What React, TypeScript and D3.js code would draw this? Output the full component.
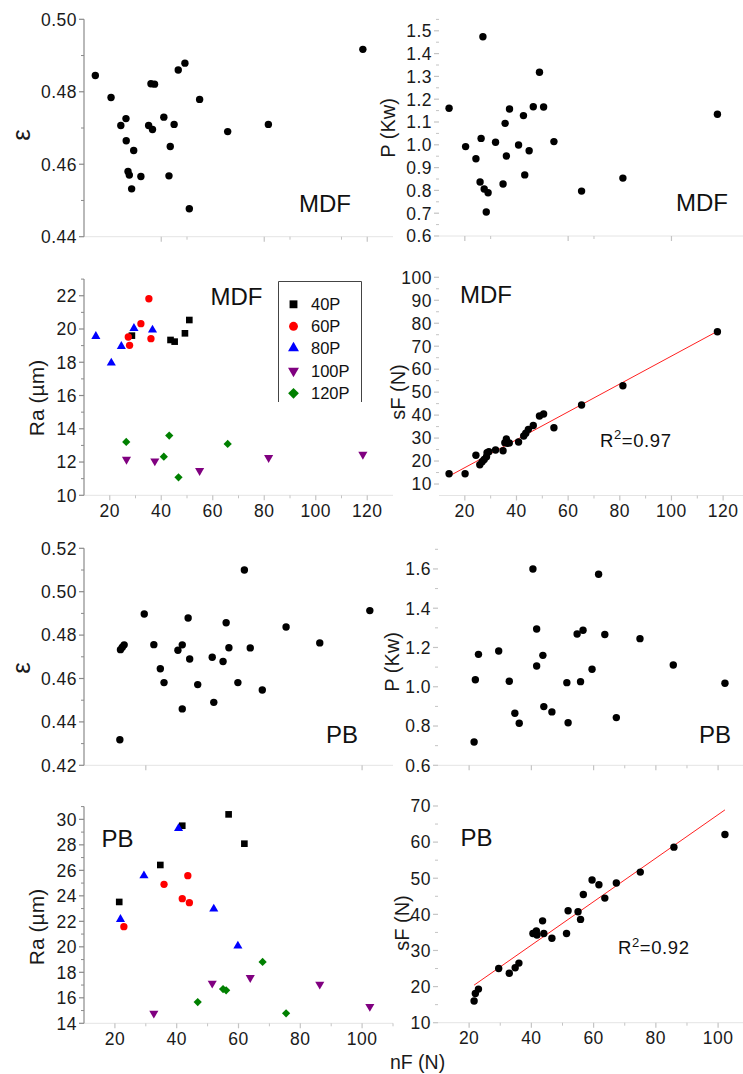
import React from 'react';
import * as d3 from 'd3';

const FONT = '"Liberation Sans", Arial, Helvetica, sans-serif';
const W = 743;
const H = 1074;

// ---------- MDF : porosity (ε) vs nF ----------
const mdfEpsNF = [14.4, 20.5, 24.3, 26.3, 26.4, 29.3, 27.1, 27.6, 28.5, 32.1, 36.0, 37.4, 35.1, 36.6, 41.0, 45.0, 43.5, 43.0, 46.6, 49.2, 54.9, 50.9, 65.8, 81.6, 118.3];
const mdfEps = [0.4845, 0.4784, 0.4707, 0.4726, 0.4665, 0.4638, 0.458, 0.457, 0.4532, 0.4566, 0.4822, 0.4821, 0.4707, 0.4696, 0.473, 0.471, 0.4649, 0.4568, 0.486, 0.4879, 0.4779, 0.4477, 0.469, 0.471, 0.4917];

// ---------- MDF : power P (Kw) vs nF ----------
const mdfPNF = [13.9, 20.3, 24.3, 26.3, 27.0, 25.9, 27.5, 29.0, 28.3, 31.9, 35.6, 37.3, 36.1, 34.8, 40.8, 42.7, 46.5, 44.9, 43.2, 48.9, 50.5, 54.5, 65.2, 81.2, 117.8];
const mdfP = [1.16, 0.992, 0.939, 1.028, 1.474, 0.837, 0.806, 0.79, 0.705, 1.011, 1.094, 1.157, 0.951, 0.828, 0.999, 1.128, 1.167, 0.974, 0.868, 1.318, 1.166, 1.014, 0.797, 0.854, 1.134];

// ---------- MDF : Ra by grit ----------
const gritNames = ['40P', '60P', '80P', '100P', '120P'];
const gritColors = ['#000000', '#ff0000', '#0000ff', '#800080', '#008000'];
const gritShapes = ['square', 'circle', 'triangle', 'triangleDown', 'diamond'];
const mdfRaNF = [
  [28.6, 43.6, 45.2, 49.2, 50.9],
  [27.2, 27.7, 32.1, 35.2, 36.0],
  [14.6, 20.6, 24.5, 29.4, 36.6],
  [26.5, 37.5, 54.9, 81.7, 118.3],
  [26.4, 41.0, 43.1, 46.7, 65.8],
];
const mdfRa = [
  [19.6, 19.34, 19.24, 19.74, 20.54],
  [19.52, 19.02, 20.32, 21.82, 19.42],
  [19.56, 17.96, 18.96, 20.04, 19.94],
  [12.16, 12.06, 11.48, 12.26, 12.46],
  [13.21, 12.32, 13.59, 11.08, 13.09],
];

// ---------- MDF : sF vs nF ----------
const mdfSFNF = [13.9, 20.1, 24.3, 25.8, 26.7, 27.5, 28.4, 28.6, 29.3, 31.9, 34.8, 35.5, 36.1, 36.5, 37.2, 40.8, 42.8, 43.6, 44.6, 46.5, 48.9, 50.5, 54.5, 65.2, 81.2, 117.8];
const mdfSF = [14.5, 14.5, 22.5, 18.4, 19.7, 20.7, 21.9, 23.6, 24.1, 24.8, 24.5, 28.0, 29.6, 27.7, 27.9, 28.3, 30.9, 32.1, 33.8, 35.5, 39.6, 40.5, 34.5, 44.4, 52.8, 76.3];
const mdfFit = { slope: 0.607, intercept: 5.0, from: 14, to: 118, r2: '0.97' };

// ---------- PB : porosity (ε) vs nF ----------
const pbEpsNF = [21.6, 21.8, 22.4, 23.0, 29.5, 32.6, 34.7, 35.9, 40.4, 41.8, 41.8, 43.7, 44.2, 46.8, 51.5, 52.0, 55.0, 56.0, 56.9, 59.8, 61.9, 63.8, 67.7, 75.4, 86.3, 102.5];
const pbEps = [0.4318, 0.4733, 0.4744, 0.4755, 0.4897, 0.4756, 0.4645, 0.4581, 0.473, 0.4755, 0.446, 0.4879, 0.469, 0.4572, 0.4698, 0.449, 0.4678, 0.4857, 0.4742, 0.4581, 0.51, 0.4741, 0.4547, 0.4837, 0.4764, 0.4913];

// ---------- PB : power P (Kw) vs nF ----------
const pbPNF = [21.6, 22.0, 23.0, 29.5, 32.9, 34.7, 36.1, 40.5, 41.7, 41.7, 43.7, 44.0, 46.6, 51.4, 51.8, 54.7, 55.8, 56.6, 59.5, 61.6, 63.6, 67.3, 74.9, 85.6, 102.2];
const pbP = [0.719, 1.036, 1.165, 1.182, 1.028, 0.865, 0.814, 1.6, 1.294, 1.106, 1.16, 0.899, 0.872, 1.021, 0.817, 1.269, 1.026, 1.288, 1.089, 1.573, 1.266, 0.843, 1.245, 1.111, 1.018];

// ---------- PB : Ra by grit ----------
const pbRaNF = [
  [21.4, 34.7, 41.8, 56.8, 61.9],
  [22.9, 35.9, 41.8, 43.6, 44.1],
  [21.8, 29.4, 40.6, 52.0, 59.8],
  [32.6, 51.5, 63.8, 86.3, 102.5],
  [46.8, 55.0, 56.0, 67.8, 75.4],
];
const pbRa = [
  [23.52, 26.42, 29.5, 30.39, 28.09],
  [21.58, 24.9, 23.78, 25.58, 23.46],
  [22.16, 25.58, 29.29, 22.97, 20.07],
  [14.78, 17.14, 17.58, 17.06, 15.31],
  [15.67, 16.69, 16.59, 18.81, 14.78],
];

// ---------- PB : sF vs nF ----------
const pbSFNF = [21.6, 22.0, 23.0, 29.5, 32.9, 34.8, 36.0, 40.5, 41.6, 41.8, 43.6, 44.0, 46.6, 51.3, 51.8, 55.0, 55.8, 56.7, 59.5, 61.7, 63.6, 67.3, 75.0, 85.8, 102.2];
const pbSF = [16.0, 18.1, 19.3, 25.0, 23.7, 25.2, 26.5, 34.7, 35.4, 34.3, 38.2, 34.7, 33.4, 34.7, 41.0, 40.7, 38.6, 45.5, 49.5, 48.2, 44.5, 48.7, 51.7, 58.6, 62.1];
const pbFit = { slope: 0.602, intercept: 7.4, from: 21.6, to: 102.2, r2: '0.92' };

type AxisCfg = {
  domain: [number, number];
  range: [number, number];
  labels: number[];
  major: number[];
  minor: number[];
  fmt?: string;
};
type PanelCfg = {
  left: boolean;
  x: AxisCfg;
  y: AxisCfg;
  title: string;
  titleAt: [number, number];
  titleSize: number;
  tag: string;
  tagAt: [number, number];
};

const range = (a: number, b: number, s: number) => d3.range(a, b + s / 2, s).map((v) => +v.toFixed(4));

const mdfXLeft = { domain: [10, 130] as [number, number], range: [84, 393] as [number, number] };
const mdfXRight = { domain: [10, 127.7] as [number, number], range: [439, 743] as [number, number] };
const pbXLeft = { domain: [10, 110] as [number, number], range: [84, 393] as [number, number] };
const pbXRight = { domain: [10, 108] as [number, number], range: [438, 743] as [number, number] };

const TICK = '#8a8a8a';
const TICK_LIGHT = '#c4c4c4';
const BASE = '#e4e4e4';
const TICK_FS = 17.5;
const TICK_LS = 0.5;

function Panel({ cfg, children }: { cfg: PanelCfg; children: (x: any, y: any) => React.ReactNode }) {
  const x = d3.scaleLinear().domain(cfg.x.domain).range(cfg.x.range);
  const y = d3.scaleLinear().domain(cfg.y.domain).range(cfg.y.range);
  const x0 = cfg.x.range[0];
  const yb = cfg.y.range[0];
  const yFmt = d3.format(cfg.y.fmt || 'd');
  const yCol = cfg.left ? TICK : TICK_LIGHT;
  return (
    <g>
      <line x1={x0} x2={cfg.x.range[1]} y1={yb} y2={yb} stroke={BASE} strokeWidth={1} />
      {cfg.left && <line x1={x0} x2={x0} y1={yb} y2={cfg.y.range[1]} stroke={TICK} strokeWidth={1.2} />}
      {cfg.y.major.map((v) => (
        <line key={'yM' + v} x1={x0 - 5} x2={x0} y1={y(v)} y2={y(v)} stroke={yCol} strokeWidth={1.2} />
      ))}
      {cfg.y.minor.map((v) => (
        <line key={'ym' + v} x1={x0 - 3} x2={x0} y1={y(v)} y2={y(v)} stroke={yCol} strokeWidth={1} />
      ))}
      {cfg.y.labels.map((v) => (
        <text key={'yl' + v} x={x0 - 7} y={y(v)} dy="0.36em" textAnchor="end" fontSize={TICK_FS} letterSpacing={TICK_LS} fill="#1a1a1a">
          {yFmt(v)}
        </text>
      ))}
      {cfg.x.major.map((v) => (
        <line key={'xM' + v} x1={x(v)} x2={x(v)} y1={yb} y2={yb + 5} stroke={TICK_LIGHT} strokeWidth={1.2} />
      ))}
      {cfg.x.minor.map((v) => (
        <line key={'xm' + v} x1={x(v)} x2={x(v)} y1={yb} y2={yb + 3} stroke={TICK_LIGHT} strokeWidth={1} />
      ))}
      {cfg.x.labels.map((v) => (
        <text key={'xl' + v} x={x(v)} y={yb + 21.5} textAnchor="middle" fontSize={TICK_FS} letterSpacing={TICK_LS} fill="#1a1a1a">
          {v}
        </text>
      ))}
      <text
        transform={`translate(${cfg.titleAt[0]},${cfg.titleAt[1]}) rotate(-90)`}
        textAnchor="middle"
        dy="0.35em"
        fontSize={cfg.titleSize}
        fill="#1a1a1a"
      >
        {cfg.title}
      </text>
      <text x={cfg.tagAt[0]} y={cfg.tagAt[1]} fontSize={24} fill="#111">
        {cfg.tag}
      </text>
      {children(x, y)}
    </g>
  );
}

function symbolPath(shape: string, size: number) {
  if (shape === 'square' || shape === 'diamond') return d3.symbol(d3.symbolSquare, size)() as string;
  if (shape === 'circle') return d3.symbol(d3.symbolCircle, size)() as string;
  return d3.symbol(d3.symbolTriangle, size)() as string;
}
function symbolRot(shape: string) {
  if (shape === 'diamond') return 45;
  if (shape === 'triangleDown') return 180;
  return 0;
}
const chartSize: Record<string, number> = { square: 44, circle: 42, triangle: 36, triangleDown: 36, diamond: 34 };
const legendSize: Record<string, number> = { square: 62, circle: 62, triangle: 52, triangleDown: 52, diamond: 58 };

function Dots({ x, y, xs, ys }: { x: any; y: any; xs: number[]; ys: number[] }) {
  return (
    <g>
      {xs.map((v, i) => (
        <circle key={i} cx={x(v)} cy={y(ys[i])} r={3.7} fill="#000" />
      ))}
    </g>
  );
}

function GritSeries({ x, y, xs, ys }: { x: any; y: any; xs: number[][]; ys: number[][] }) {
  return (
    <g>
      {xs.map((row, s) =>
        row.map((v, i) => (
          <path
            key={s + '-' + i}
            d={symbolPath(gritShapes[s], chartSize[gritShapes[s]])}
            transform={`translate(${x(v)},${y(ys[s][i])}) rotate(${symbolRot(gritShapes[s])})`}
            fill={gritColors[s]}
          />
        ))
      )}
    </g>
  );
}

function Fit({ x, y, fit, at }: { x: any; y: any; fit: typeof mdfFit; at: [number, number] }) {
  const line = d3
    .line<number>()
    .x((v) => x(v))
    .y((v) => y(fit.slope * v + fit.intercept));
  return (
    <g>
      <path d={line([fit.from, fit.to]) as string} stroke="#ff2020" strokeWidth={1} fill="none" />
      <text x={at[0]} y={at[1]} fontSize={18.5} letterSpacing={0.6} fill="#111">
        R<tspan dy={-7.5} fontSize={13}>2</tspan>
        <tspan dy={7.5}>={fit.r2}</tspan>
      </text>
    </g>
  );
}

function Legend() {
  const rowY = [304.3, 326.3, 348, 371, 393.3];
  return (
    <g>
      <rect x={278.5} y={281} width={83} height={121} fill="#fff" />
      <path d="M278.5,402 V281.5 H361.5 V402" fill="none" stroke="#444" strokeWidth={1} />
      {gritNames.map((n, i) => (
        <g key={n}>
          <path
            d={symbolPath(gritShapes[i], legendSize[gritShapes[i]])}
            transform={`translate(293.5,${rowY[i]}) rotate(${symbolRot(gritShapes[i])})`}
            fill={gritColors[i]}
          />
          <text x={311} y={rowY[i]} dy="0.36em" fontSize={16.5} fill="#111">
            {n}
          </text>
        </g>
      ))}
    </g>
  );
}

const cfgs: PanelCfg[] = [
  {
    left: true,
    x: { ...mdfXLeft, labels: [], major: [40, 80, 120], minor: [50, 90, 110] },
    y: { domain: [0.44, 0.5], range: [236.7, 19.3], labels: range(0.44, 0.5, 0.02), major: range(0.44, 0.5, 0.02), minor: range(0.45, 0.49, 0.02), fmt: '.2f' },
    title: 'ε', titleAt: [21, 135], titleSize: 26, tag: 'MDF', tagAt: [299, 212],
  },
  {
    left: false,
    x: { ...mdfXRight, labels: [], major: [20, 60, 100], minor: [30, 70] },
    y: { domain: [0.6, 1.55], range: [236, 19.4], labels: range(0.6, 1.5, 0.1), major: range(0.6, 1.5, 0.1), minor: range(0.65, 1.55, 0.1), fmt: '.1f' },
    title: 'P (Kw)', titleAt: [388, 128], titleSize: 20, tag: 'MDF', tagAt: [676, 211],
  },
  {
    left: true,
    x: { ...mdfXLeft, labels: range(20, 120, 20), major: range(20, 120, 20), minor: range(30, 110, 20) },
    y: { domain: [10, 23], range: [495.3, 279.1], labels: range(10, 22, 2), major: range(10, 22, 2), minor: range(11, 23, 2) },
    title: 'Ra (µm)', titleAt: [37, 398], titleSize: 21, tag: 'MDF', tagAt: [210.5, 305],
  },
  {
    left: false,
    x: { ...mdfXRight, labels: range(20, 120, 20), major: range(20, 120, 20), minor: range(30, 110, 20) },
    y: { domain: [5, 100], range: [495.5, 277.3], labels: range(10, 100, 10), major: range(10, 100, 10), minor: range(15, 95, 10) },
    title: 'sF (N)', titleAt: [397.5, 392], titleSize: 20, tag: 'MDF', tagAt: [460, 302.5],
  },
  {
    left: true,
    x: { ...pbXLeft, labels: [], major: [30, 100], minor: [] },
    y: { domain: [0.42, 0.52], range: [765.3, 548.3], labels: range(0.42, 0.52, 0.02), major: range(0.42, 0.52, 0.02), minor: range(0.43, 0.51, 0.02), fmt: '.2f' },
    title: 'ε', titleAt: [21, 668], titleSize: 26, tag: 'PB', tagAt: [326, 742.5],
  },
  {
    left: false,
    x: { ...pbXRight, labels: [], major: [20, 40, 60, 80, 100], minor: [70, 90] },
    y: { domain: [0.6, 1.7], range: [765.3, 549.3], labels: range(0.6, 1.6, 0.2), major: range(0.6, 1.6, 0.2), minor: range(0.7, 1.7, 0.2), fmt: '.1f' },
    title: 'P (Kw)', titleAt: [391.5, 662], titleSize: 20, tag: 'PB', tagAt: [699, 743],
  },
  {
    left: true,
    x: { ...pbXLeft, labels: range(20, 100, 20), major: range(20, 100, 20), minor: range(30, 110, 20) },
    y: { domain: [14, 31], range: [1023.3, 806.6], labels: range(14, 30, 2), major: range(14, 30, 2), minor: range(15, 31, 2) },
    title: 'Ra (µm)', titleAt: [37, 927], titleSize: 21, tag: 'PB', tagAt: [101.5, 846.5],
  },
  {
    left: false,
    x: { ...pbXRight, labels: range(20, 100, 20), major: range(20, 100, 20), minor: range(30, 90, 20) },
    y: { domain: [10, 70], range: [1022.7, 806], labels: range(10, 70, 10), major: range(10, 70, 10), minor: range(15, 65, 10) },
    title: 'sF (N)', titleAt: [401.5, 923], titleSize: 20, tag: 'PB', tagAt: [460.5, 846],
  },
];

export default function App() {
  return (
    <svg
      width={W}
      height={H}
      viewBox={`0 0 ${W} ${H}`}
      style={{ position: 'absolute', left: 0, top: 0, background: '#fff', fontFamily: FONT }}
    >
      <rect x={0} y={0} width={W} height={H} fill="#fff" />
      <Panel cfg={cfgs[0]}>{(x, y) => <Dots x={x} y={y} xs={mdfEpsNF} ys={mdfEps} />}</Panel>
      <Panel cfg={cfgs[1]}>{(x, y) => <Dots x={x} y={y} xs={mdfPNF} ys={mdfP} />}</Panel>
      <Panel cfg={cfgs[2]}>
        {(x, y) => (
          <g>
            <GritSeries x={x} y={y} xs={mdfRaNF} ys={mdfRa} />
            <Legend />
          </g>
        )}
      </Panel>
      <Panel cfg={cfgs[3]}>
        {(x, y) => (
          <g>
            <Fit x={x} y={y} fit={mdfFit} at={[600, 446.5]} />
            <Dots x={x} y={y} xs={mdfSFNF} ys={mdfSF} />
          </g>
        )}
      </Panel>
      <Panel cfg={cfgs[4]}>{(x, y) => <Dots x={x} y={y} xs={pbEpsNF} ys={pbEps} />}</Panel>
      <Panel cfg={cfgs[5]}>{(x, y) => <Dots x={x} y={y} xs={pbPNF} ys={pbP} />}</Panel>
      <Panel cfg={cfgs[6]}>{(x, y) => <GritSeries x={x} y={y} xs={pbRaNF} ys={pbRa} />}</Panel>
      <Panel cfg={cfgs[7]}>
        {(x, y) => (
          <g>
            <Fit x={x} y={y} fit={pbFit} at={[618, 954]} />
            <Dots x={x} y={y} xs={pbSFNF} ys={pbSF} />
          </g>
        )}
      </Panel>
      <text x={417.5} y={1069} textAnchor="middle" fontSize={19.5} fill="#1a1a1a">
        nF (N)
      </text>
    </svg>
  );
}
